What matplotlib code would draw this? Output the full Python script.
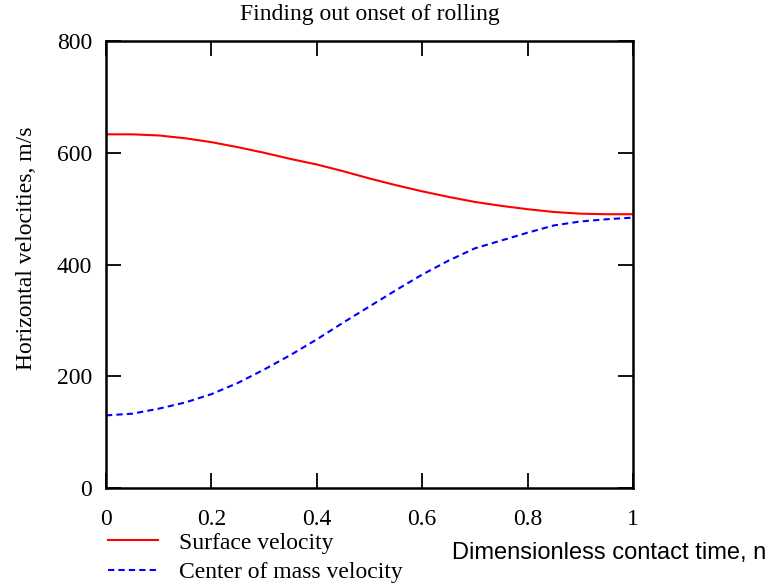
import matplotlib.pyplot as plt

# dimensionless contact time
t = [0.0, 0.05, 0.1, 0.15, 0.2, 0.25, 0.3, 0.35, 0.4, 0.45, 0.5,
     0.55, 0.6, 0.65, 0.7, 0.75, 0.8, 0.85, 0.9, 0.95, 1.0]

# surface velocity, m/s
v_surface = [633, 633, 631, 626, 619, 610, 600, 589, 579, 567, 554,
             542, 531, 521, 512, 505, 499, 494, 491, 490, 490]

# center of mass velocity, m/s
v_center = [130, 133, 142, 153, 168, 188, 212, 238, 266, 296, 325,
            354, 382, 407, 429, 443, 457, 470, 477, 481, 484]

x_ticks = [0, 0.2, 0.4, 0.6, 0.8, 1]
x_tick_labels = ['0', '0.2', '0.4', '0.6', '0.8', '1']
y_ticks = [0, 200, 400, 600, 800]

serif = 'Liberation Serif'
sans = 'Liberation Sans'

fig = plt.figure(figsize=(7.72, 5.86), dpi=100)
ax = fig.add_axes([0.1373, 0.1672, 0.6827, 0.7628])

l1, = ax.plot(t, v_surface, color='#ff0000', lw=1.5)
l2, = ax.plot(t, v_center, color='#0000ff', lw=1.5, linestyle=(0, (3, 2)))

ax.set_xlim(0, 1)
ax.set_ylim(0, 800)
ax.set_xticks(x_ticks)
ax.set_xticklabels(x_tick_labels)
ax.set_yticks(y_ticks)
ax.tick_params(direction='in', length=11, width=1.3, top=True, right=True,
               labelsize=17)
ax.tick_params(axis='x', pad=15)
ax.tick_params(axis='y', pad=10)
for lab in ax.get_xticklabels() + ax.get_yticklabels():
    lab.set_fontfamily(serif)
for s in ax.spines.values():
    s.set_linewidth(1.8)

ax.set_title('Finding out onset of rolling', family=serif, fontsize=17, pad=15)
ax.set_ylabel('Horizontal velocities, m/s', family=serif, fontsize=17)
ax.yaxis.set_label_coords(-0.131, 0.537)

fig.text(0.585, 0.056, 'Dimensionless contact time, n', family=sans,
         fontsize=17, ha='left', va='center')

fig.legend([l1, l2], ['Surface velocity', 'Center of mass velocity'],
           loc='upper left', bbox_to_anchor=(0.125, 0.112), frameon=False,
           prop={'family': serif, 'size': 17}, handlelength=2.1,
           handletextpad=0.9, labelspacing=0.33, borderpad=0)

fig.savefig('out.png', dpi=100)
